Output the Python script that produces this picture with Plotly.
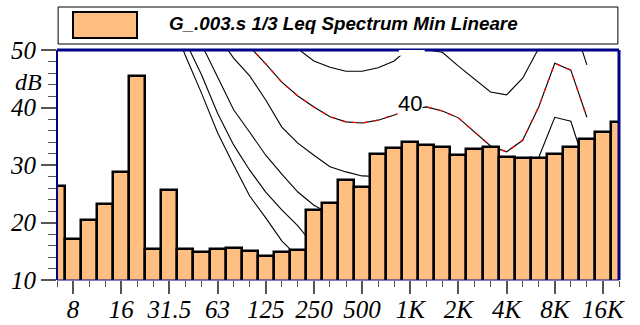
import plotly.graph_objects as go

# ---------------- data ----------------
bands = ["6.3", "8", "10", "12.5", "16", "20", "25", "31.5", "40", "50", "63", "80",
         "100", "125", "160", "200", "250", "315", "400", "500", "630", "800",
         "1K", "1.25K", "1.6K", "2K", "2.5K", "3.15K", "4K", "5K", "6.3K", "8K",
         "10K", "12.5K", "16K", "20K"]
levels = [26.3, 17.1, 20.4, 23.3, 28.8, 45.5, 15.4, 25.7, 15.4, 14.9, 15.4, 15.6,
          15.0, 14.2, 14.9, 15.3, 22.2, 23.4, 27.4, 26.2, 31.9, 33.0,
          34.0, 33.5, 33.1, 31.7, 32.8, 33.1, 31.4, 31.2, 31.2, 31.9,
          33.1, 34.5, 35.7, 37.5]

tick_labels = ["8", "16", "31.5", "63", "125", "250", "500", "1K", "2K", "4K", "8K", "16K"]
tick_bands = ["8", "16", "31.5", "63", "125", "250", "500", "1K", "2K", "4K", "8K", "16K"]

# contour curves (band index -> dB)
curve_a_idx = list(range(11, 34))
curve_a_val = [53.5, 50.5, 47.6, 44.4, 42.0, 40.1, 38.4, 37.5, 37.3, 37.8, 38.7, 39.6,
               40.1, 39.4, 38.2, 35.7, 33.3, 32.3, 34.3, 40.1, 47.7, 46.5, 38.3]
curve_b_idx = list(range(14, 34))
curve_b_val = [52.8, 50.2, 48.1, 47.0, 46.3, 46.3, 46.9, 48.1, 50.5, 50.0, 49.6, 47.2,
               45.0, 42.7, 42.2, 45.1, 50.3, 57.5, 56.0, 47.4]
curve_c_idx = list(range(10, 34))
curve_c_val = [52.5, 48.6, 45.5, 41.3, 36.6, 33.8, 31.7, 29.7, 28.8, 28.1, 28.0, 28.7,
               29.6, 30.1, 29.4, 28.2, 25.7, 23.3, 22.3, 24.8, 31.3, 38.3, 37.6, 29.0]
curve_d_idx = list(range(8, 18))
curve_d_val = [55.0, 51.0, 45.3, 39.6, 35.7, 31.7, 28.4, 25.3, 23.0, 21.5]
curve_e_idx = list(range(7, 17))
curve_e_val = [58.0, 51.5, 45.7, 39.0, 33.5, 29.1, 25.3, 22.2, 19.4, 16.0]
curve_f_idx = list(range(7, 16))
curve_f_val = [56.0, 49.0, 42.5, 35.6, 30.0, 24.6, 20.8, 16.8, 14.0]

label_40_band = "1K"
label_40_db = 40.7

legend_text = "G_.003.s 1/3 Leq Spectrum Min Lineare"
y_title = "dB"

# ---------------- figure ----------------
x_idx = list(range(len(bands)))
tick_pos = [bands.index(b) for b in tick_bands]
XR = [0, len(bands) - 1]
YR = [10, 50]

fig = go.Figure()

line_curves = [(curve_f_idx, curve_f_val), (curve_e_idx, curve_e_val),
               (curve_d_idx, curve_d_val), (curve_c_idx, curve_c_val),
               (curve_b_idx, curve_b_val), (curve_a_idx, curve_a_val)]
for ix, vals in line_curves:
    fig.add_trace(go.Scatter(x=ix, y=vals, mode="lines",
                             line=dict(color="black", width=1.1),
                             showlegend=False, hoverinfo="skip"))
# red dashed overlay on the 40 curve
fig.add_trace(go.Scatter(x=curve_a_idx, y=curve_a_val, mode="lines",
                         line=dict(color="#ff0000", width=1.3, dash="4px,7px"),
                         showlegend=False, hoverinfo="skip"))

# bars on an overlaying subplot so they sit above the curves
fig.add_trace(go.Bar(x=x_idx, y=levels, width=1.0, base=0,
                     marker=dict(color="#FFBF80", line=dict(color="black", width=2.5)),
                     xaxis="x2", yaxis="y2", showlegend=False))

serif = "Liberation Serif, Times New Roman, serif"
sans = "Liberation Sans, Arial, sans-serif"

fig.update_layout(
    template="none",
    width=640, height=325,
    margin=dict(l=57, r=21, t=50, b=45, autoexpand=False),
    paper_bgcolor="white", plot_bgcolor="white",
    bargap=0,
    xaxis=dict(range=XR, showgrid=False, zeroline=False, showline=False, automargin=False,
               tickmode="array", tickvals=tick_pos, ticktext=tick_labels,
               ticks="outside", ticklen=13, tickwidth=1.5, tickcolor="#555",
               ticklabelstandoff=-6,
               tickfont=dict(family=serif, size=25, color="black", style="italic"),
               minor=dict(tickmode="linear", tick0=0, dtick=1, ticks="outside",
                          ticklen=6, tickwidth=1.2, tickcolor="#555", showgrid=False)),
    yaxis=dict(range=YR, showgrid=False, zeroline=False, showline=False, automargin=False,
               tickmode="array", tickvals=[10, 20, 30, 40, 50],
               ticks="outside", ticklen=15, tickwidth=1.5, tickcolor="#555",
               tickfont=dict(family=serif, size=25, color="black", style="italic"),
               minor=dict(tickmode="linear", tick0=10, dtick=2, ticks="outside",
                          ticklen=8, tickwidth=1.2, tickcolor="#555", showgrid=False)),
    xaxis2=dict(range=XR, overlaying="x", visible=False),
    yaxis2=dict(range=YR, overlaying="y", visible=False),
)

navy = "#000088"
shapes = [
    dict(type="line", xref="paper", yref="paper", x0=0, x1=1, y0=0, y1=0,
         line=dict(color=navy, width=1), layer="above"),
    dict(type="line", xref="paper", yref="paper", x0=0, x1=0, y0=0, y1=1,
         line=dict(color=navy, width=2), layer="above"),
    dict(type="line", xref="paper", yref="paper", x0=0, x1=1, y0=1, y1=1,
         line=dict(color=navy, width=3), layer="above"),
    dict(type="line", xref="paper", yref="paper", x0=1, x1=1, y0=0, y1=1,
         line=dict(color=navy, width=3), layer="above"),
    # white box of the clipped "50" contour label
    dict(type="rect", xref="x", yref="y", x0=21.3, x1=22.9, y0=49.0, y1=50.7,
         fillcolor="white", line=dict(width=0), layer="above"),
    # legend frame
    dict(type="rect", xref="paper", yref="paper", x0=0.002, x1=0.998,
         y0=(280 - 44) / 230, y1=(280 - 7) / 230,
         fillcolor="white", line=dict(color="black", width=1)),
    # legend swatch
    dict(type="rect", xref="paper", yref="paper", x0=(73 - 57) / 562, x1=(137 - 57) / 562,
         y0=(280 - 38) / 230, y1=(280 - 12) / 230,
         fillcolor="#FFBF80", line=dict(color="black", width=2)),
]
fig.update_layout(shapes=shapes)

fig.add_annotation(xref="paper", yref="paper", x=(167 - 57) / 562, y=(280 - 24) / 230,
                   xanchor="left", yanchor="middle", showarrow=False,
                   text=legend_text,
                   font=dict(family=sans, size=18.8, color="black", weight="bold", style="italic"))
fig.add_annotation(xref="paper", yref="y", x=(28 - 57) / 562, y=44.4,
                   xanchor="center", yanchor="middle", showarrow=False, text=y_title,
                   font=dict(family=serif, size=24, color="black", style="italic"))
fig.add_annotation(x=bands.index(label_40_band), y=label_40_db, xref="x", yref="y",
                   showarrow=False, text="40", bgcolor="white", borderpad=0,
                   font=dict(family=sans, size=22, color="black"))

fig.write_html("out.html", config={"displayModeBar": False},
               post_script="document.body.style.margin='0';")
